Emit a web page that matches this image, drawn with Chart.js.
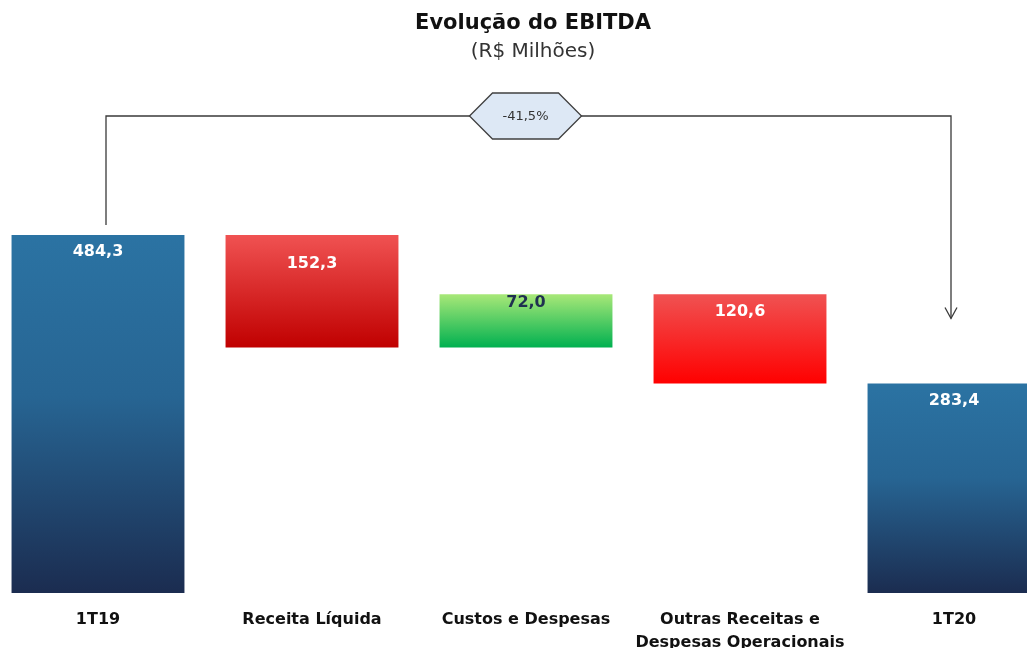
<!DOCTYPE html>
<html>
<head>
<meta charset="utf-8">
<script src="https://cdn.jsdelivr.net/npm/chart.js@4"></script>
<style>
  html, body { margin: 0; padding: 0; background: #fff; overflow: hidden; }
  #wrap { position: absolute; left: -9px; top: 0; width: 1070px; height: 648px; }
</style>
</head>
<body>
<div id="wrap"><canvas id="ebitda"></canvas></div>
<script>
// values (R$ milhões)
const categories = ["1T19", "Receita Líquida", "Custos e Despesas", ["Outras Receitas e", "Despesas Operacionais"], "1T20"];
const values = [484.3, -152.3, 72.0, -120.6, 283.4];
const isTotal = [true, false, false, false, true];
const variationLabel = "-41,5%";

// build floating ranges for the waterfall
let running = 0;
const ranges = values.map((v, i) => {
  if (isTotal[i]) { running = v; return [0, v]; }
  const from = running;
  running = running + v;
  return [Math.min(from, running), Math.max(from, running)];
});
const fmt = (v) => Math.abs(v).toFixed(1).replace(".", ",");

const gradStops = [
  [[0, "#2b73a3"], [0.45, "#276593"], [1, "#1b2c50"]],
  [[0, "#f05252"], [1, "#c00000"]],
  [[0, "#a8e878"], [1, "#00b050"]],
  [[0, "#f05252"], [1, "#ff0000"]],
  [[0, "#2b73a3"], [0.45, "#276593"], [1, "#1b2c50"]],
];
const labelOffsets = [17, 29, 9, 18, 17];
const labelColors = ["#ffffff", "#ffffff", "#1f3050", "#ffffff", "#ffffff"];

const barFill = (ctx) => {
  const chart = ctx.chart;
  const i = ctx.dataIndex;
  if (!chart.chartArea || !chart.scales.y) return gradStops[i][0][1];
  const y = chart.scales.y;
  const top = y.getPixelForValue(ranges[i][1]);
  const bottom = y.getPixelForValue(ranges[i][0]);
  const g = chart.ctx.createLinearGradient(0, top, 0, bottom);
  gradStops[i].forEach(([p, c]) => g.addColorStop(p, c));
  return g;
};

const decorations = {
  id: "decorations",
  afterDraw(chart) {
    const ctx = chart.ctx;
    const bars = chart.getDatasetMeta(0).data;
    const area = chart.chartArea;

    // title
    const cx = (area.left + area.right) / 2 + 7;
    ctx.save();
    ctx.fillStyle = "#111";
    ctx.textAlign = "center";
    ctx.textBaseline = "middle";
    ctx.font = "bold 21px 'DejaVu Sans'";
    ctx.fillText("Evolução do EBITDA", cx, 24);
    ctx.fillStyle = "#333";
    ctx.font = "20px 'DejaVu Sans'";
    ctx.fillText("(R$ Milhões)", cx, 52);

    // value labels
    ctx.font = "bold 16px 'DejaVu Sans'";
    bars.forEach((b, i) => {
      ctx.fillStyle = labelColors[i];
      ctx.fillText(fmt(values[i]), b.x, b.y + labelOffsets[i]);
    });

    // connector between first and last bar
    const first = bars[0], last = bars[bars.length - 1];
    const xl = first.x + 8, xr = last.x - 3;
    const lineY = area.top + 11;
    const endY = last.y - 65;
    ctx.strokeStyle = "#3a3a3a";
    ctx.lineWidth = 1.3;
    ctx.beginPath();
    ctx.moveTo(xl, first.y - 10);
    ctx.lineTo(xl, lineY);
    ctx.lineTo(xr, lineY);
    ctx.lineTo(xr, endY);
    ctx.stroke();
    ctx.beginPath();
    ctx.moveTo(xr - 6, endY - 11);
    ctx.lineTo(xr, endY);
    ctx.lineTo(xr + 6, endY - 11);
    ctx.stroke();

    // hexagon badge
    const hx = (xl + xr) / 2 - 3;
    ctx.beginPath();
    ctx.moveTo(hx - 56, lineY);
    ctx.lineTo(hx - 33, lineY - 23);
    ctx.lineTo(hx + 33, lineY - 23);
    ctx.lineTo(hx + 56, lineY);
    ctx.lineTo(hx + 33, lineY + 23);
    ctx.lineTo(hx - 33, lineY + 23);
    ctx.closePath();
    ctx.fillStyle = "#dde8f5";
    ctx.fill();
    ctx.strokeStyle = "#404040";
    ctx.stroke();
    ctx.fillStyle = "#333";
    ctx.font = "13px 'DejaVu Sans'";
    ctx.fillText(variationLabel, hx, lineY + 1);
    ctx.restore();
  }
};

new Chart(document.getElementById("ebitda"), {
  type: "bar",
  data: {
    labels: categories,
    datasets: [{
      data: ranges,
      backgroundColor: barFill,
      borderWidth: 0,
      barPercentage: 0.808,
      categoryPercentage: 1
    }]
  },
  options: {
    responsive: true,
    maintainAspectRatio: false,
    animation: false,
    layout: { padding: { top: 105, bottom: 0, left: 0, right: 0 } },
    plugins: { legend: { display: false }, tooltip: { enabled: false } },
    scales: {
      x: {
        grid: { display: false, drawTicks: false },
        border: { display: false },
        afterFit: (scale) => { scale.height = 55; },
        ticks: {
          padding: 15,
          maxRotation: 0,
          minRotation: 0,
          autoSkip: false,
          color: "#111",
          font: { family: "'DejaVu Sans'", size: 16, weight: "bold", lineHeight: 1.44 }
        }
      },
      y: { display: false, min: 0, max: 660 }
    }
  },
  plugins: [decorations]
});
</script>
</body>
</html>
